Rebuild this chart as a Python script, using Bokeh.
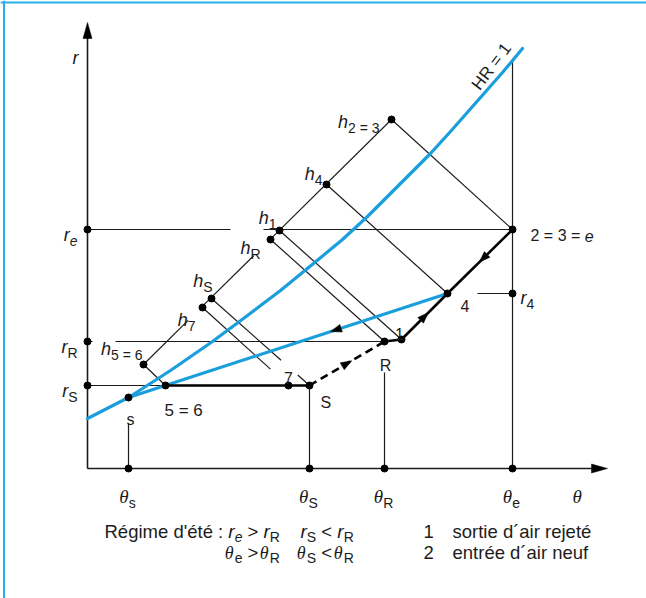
import math
import numpy as np
from bokeh.plotting import figure
from bokeh.models import Range1d, ColumnDataSource, Span
from bokeh.embed import file_html
from bokeh.resources import INLINE

# ---- state points of the summer cycle: dry-bulb temperature θ, humidity ratio r ----
pt_name = ["s", "5=6", "7", "S", "R", "1", "4", "e"]
pt_theta = [4.1, 7.8, 20.1, 22.2, 29.7, 31.4, 36.0, 42.5]
pt_r = [7.1, 8.3, 8.3, 8.3, 12.7, 12.9, 17.5, 23.9]

# feet of the enthalpy lines on the h scale, and the state each line comes from
h_name = ["5=6", "7", "S", "R", "1", "4", "2=3"]
h_theta = [5.6, 11.5, 12.4, 18.3, 19.2, 23.9, 30.4]
h_r = [10.4, 16.1, 17.0, 22.9, 23.8, 28.4, 34.9]
h_to = ["5=6", "7", "S", "R", "1", "4", "e"]

# saturation curve HR = 1
sat_theta = [0.0, 4.1, 8.3, 12.5, 16.0, 19.3, 22.6, 25.5, 28.0, 31.0, 34.3, 36.3, 39.3, 41.5, 43.5]
sat_r = [5.0, 7.1, 9.8, 12.7, 15.3, 17.8, 20.5, 22.9, 25.2, 28.2, 31.5, 33.7, 37.1, 39.6, 42.0]

# values marked on the axes
theta_tick_sub = ["s", "S", "R", "e"]
theta_tick_val = [4.1, 22.2, 29.7, 42.5]
r_tick_sub = ["S", "R", "e"]
r_tick_val = [8.3, 12.7, 23.9]
r4_val = 17.5

theta_axis_len = 52.0
r_axis_len = 44.6

INK = "#1c1c1c"
BLUE = "#1b9fdc"
FRAME_BLUE = "#2ab0e8"
SANS = "Liberation Sans"
SERIF = "Liberation Serif"
PX = 0.1  # data units per screen pixel, same on both axes

P = {n: (x, y) for n, x, y in zip(pt_name, pt_theta, pt_r)}
H = {n: (x, y) for n, x, y in zip(h_name, h_theta, h_r)}

p = figure(width=646, height=598, x_range=Range1d(-8.7, 55.9), y_range=Range1d(-13.0, 46.8),
           output_backend="svg", toolbar_location=None, min_border=0,
           x_axis_type=None, y_axis_type=None)
p.grid.visible = False
p.outline_line_color = None
p.background_fill_color = "white"
p.border_fill_color = "white"

# blue frame on the left and top edges
p.add_layout(Span(location=-8.7 + 3.5 * PX, dimension="height", line_color=FRAME_BLUE, line_width=2))
p.add_layout(Span(location=46.8 - 2.0 * PX, dimension="width", line_color=FRAME_BLUE, line_width=2))


def lerp(a, b, t):
    return (a[0] + (b[0] - a[0]) * t, a[1] + (b[1] - a[1]) * t)


thin_xs, thin_ys = [], []


def seg(a, b):
    thin_xs.append([a[0], b[0]])
    thin_ys.append([a[1], b[1]])


# verticals from the θ axis
sat_top = float(np.interp(P["e"][0], sat_theta, sat_r))
seg((P["s"][0], 0), (P["s"][0], P["s"][1] - 2.6))
seg((P["S"][0], 0), P["S"])
seg((P["R"][0], 0), (P["R"][0], P["R"][1] - 3.1))
seg((P["e"][0], 0), (P["e"][0], sat_top))

# horizontals from the r axis
r_e, r_R, r_S = r_tick_val[2], r_tick_val[1], r_tick_val[0]
seg((0, r_e), (14.3, r_e))
seg((17.6, r_e), P["e"])
seg((0, r_R), (0.5, r_R))
seg((2.8, r_R), P["R"])
seg((0, r_S), P["5=6"])
seg((P["e"][0] - 3.5, r4_val), (P["e"][0], r4_val))

# h scale, broken where its labels sit
ha, hb = H["5=6"], H["2=3"]
for t0, t1 in [(0.0, 0.18), (0.238, 0.444), (0.512, 1.0)]:
    seg(lerp(ha, hb, t0), lerp(ha, hb, t1))

# enthalpy lines from the h scale down to each state point
gaps = {"7": [(0.0, 0.79)], "S": [(0.0, 0.71), (0.88, 1.0)]}
for hn, to in zip(h_name, h_to):
    for t0, t1 in gaps.get(to, [(0.0, 1.0)]):
        seg(lerp(H[hn], P[to], t0), lerp(H[hn], P[to], t1))

p.multi_line(thin_xs, thin_ys, line_color=INK, line_width=1.2)

# axes
p.line([0, theta_axis_len - 1.0], [0, 0], line_color=INK, line_width=1.6)
p.line([0, 0], [0, r_axis_len - 1.0], line_color=INK, line_width=1.6)

# blue lines: saturation curve and the s-4 mixing line
p.line(sat_theta, sat_r, line_color=BLUE, line_width=3.2, line_join="round", line_cap="round")
p.line([P["s"][0], P["4"][0]], [P["s"][1], P["4"][1]], line_color=BLUE, line_width=3.2)

# air treatment path
path_a = ["5=6", "7", "S"]
path_b = ["R", "1", "4", "e"]
p.line([P[n][0] for n in path_a], [P[n][1] for n in path_a], line_color="black", line_width=2.6)
p.line([P[n][0] for n in path_b], [P[n][1] for n in path_b], line_color="black", line_width=2.6,
       line_join="round")
p.line([P["S"][0], P["R"][0]], [P["S"][1], P["R"][1]], line_color="black", line_width=2.6,
       line_dash="8 5")


def head(tip, ang, length, width):
    ux, uy = math.cos(ang), math.sin(ang)
    bx, by = tip[0] - ux * length * PX, tip[1] - uy * length * PX
    nx, ny = -uy, ux
    hw = width / 2 * PX
    return [tip[0], bx + nx * hw, bx - nx * hw], [tip[1], by + ny * hw, by - ny * hw]


def mid_head(a, b, frac, length=11, width=8):
    c = lerp(a, b, frac)
    ang = math.atan2(b[1] - a[1], b[0] - a[0])
    tip = (c[0] + math.cos(ang) * length / 2 * PX, c[1] + math.sin(ang) * length / 2 * PX)
    return head(tip, ang, length, width)


heads = [
    head((theta_axis_len, 0), 0.0, 16, 9),
    head((0, r_axis_len), math.pi / 2, 16, 9),
    mid_head(P["e"], P["4"], 0.45),
    mid_head(P["1"], P["4"], 0.5),
    mid_head(P["S"], P["R"], 0.5),
    mid_head(P["4"], P["s"], 0.35),
]
p.patches([h[0] for h in heads], [h[1] for h in heads], fill_color="black", line_color="black",
          line_width=0.5)

# dots
dot_x = pt_theta + h_theta + theta_tick_val + [0] * len(r_tick_val) + [P["e"][0]]
dot_y = pt_r + h_r + [0] * len(theta_tick_val) + r_tick_val + [r4_val]
p.scatter(dot_x, dot_y, size=7, marker="circle", fill_color="black", line_color="black")

# ---- texts ----
SANS_W = {" ": .278, "'": .191, "´": .333, ":": .278, "=": .584, "<": .584, ">": .584,
          "R": .722, "S": .667, "H": .722, "r": .333, "e": .556, "é": .556, "g": .556,
          "i": .222, "m": .833, "d": .556, "t": .278, "s": .5, "o": .556, "a": .556,
          "j": .222, "n": .556, "u": .556, "f": .278, "h": .556}
SERIF_W = {"θ": .5}


def text_w(t, size, font):
    table = SERIF_W if font == SERIF else SANS_W
    return size * sum(table.get(c, .556) for c in t)


def run_w(run):
    return text_w(run[0], run[1], run[3])


T = {k: [] for k in ["x", "y", "text", "xo", "yo", "size", "style", "font", "align", "base", "angle"]}


def put(x, y, t, xo, yo, size, style="normal", font=SANS, align="left", base="alphabetic", angle=0.0):
    for k, v in zip(T.keys(), [x, y, t, xo, yo, f"{size}px", style, font, align, base, angle]):
        T[k].append(v)


def put_run(anchor, run, x0, dy):
    t, sz, st, f, sh = run
    lead = len(t) - len(t.lstrip(" "))
    body = t.strip(" ")
    if body:
        put(anchor[0], anchor[1], body, x0 + text_w(" " * lead, sz, f), dy + sh, sz, st, f)


def rich(anchor, parts, dx, dy, align="left"):
    """Lay out runs of text side by side; blanks only advance the pen.
    Returns the pen position at the start of each run."""
    ws = [run_w(r) for r in parts]
    total = sum(ws)
    cur = dx - {"left": 0, "center": total / 2, "right": total}[align]
    starts = []
    for run, w in zip(parts, ws):
        starts.append(cur)
        put_run(anchor, run, cur, dy)
        cur += w
    starts.append(cur)
    return starts


def V(t, size=18):  # italic variable letter
    return (t, size, "italic", SANS, 0)


def TH(size=19):
    return ("θ", size, "italic", SERIF, 0)


def SB(t, italic=False, size=14, shift=6):
    return (t, size, "italic" if italic else "normal", SANS, shift)


def N(t, size=16, italic=False):
    return (t, size, "italic" if italic else "normal", SANS, 0)


# axis titles
rich((0, r_axis_len), [V("r")], -15, 35)
rich((theta_axis_len, 0), [TH()], -35, 28)

# r axis values
for sub, rv in zip(r_tick_sub, r_tick_val):
    rich((0, rv), [V("r"), SB(sub, italic=(sub == "e"))], -10, 5, "right")

# θ axis values
for sub, tv in zip(theta_tick_sub, theta_tick_val):
    rich((tv, 0), [TH(), SB(sub)], -1, 28, "center")

# h scale labels: (right end dx, baseline dy) around each foot
h_lab = {"5=6": (-1, -16, "5 = 6"), "7": (-7, 12, "7"), "S": (1, -18, "S"), "R": (-10, 8, "R"),
         "1": (-3, -13, "1"), "4": (-4, -11, "4"), "2=3": (-12, 2, "2 = 3")}
for hn in h_name:
    dx, dy, sub = h_lab[hn]
    rich(H[hn], [V("h"), SB(sub)], dx, dy, "right")

# state point labels
rich(P["e"], [N("2 = 3 = "), N("e", italic=True)], 18, 6)
rich((P["e"][0], r4_val), [V("r"), SB("4")], 8, 4)
rich(P["4"], [N("4")], 13, 12)
rich(P["1"], [N("1")], -2, -6, "center")
rich(P["R"], [N("R")], 1, 24, "center")
rich(P["7"], [N("7")], 0, -8, "center")
rich(P["S"], [N("S")], 11, 17)
rich(P["5=6"], [N("5 = 6", 17)], -1, 25)
rich(P["s"], [N("s")], 2, 22, "center")

# HR = 1 along the top of the saturation curve
top = (sat_theta[-1], sat_r[-1])
put(top[0] - 3.1, top[1] - 1.8, "HR = 1", 0, 0, 17, align="center", base="middle",
    angle=math.radians(53))

# caption: the second line keeps the columns of the first one
cs = 18.5
sub_c = dict(size=14, shift=5)
line1 = [N("Régime d'été : ", cs), V("r", 19), SB("e", True, **sub_c), N(" > ", cs), V("r", 19),
         SB("R", **sub_c), N("    ", cs), V("r", 19), SB("S", **sub_c), N(" < ", cs), V("r", 19),
         SB("R", **sub_c)]
y1, y2 = 63, 84
st1 = rich((0, 0), line1, 17, y1)
# θ groups end where the matching r groups end; the operators stay in place
for sub, end in zip(["e", "R", "S", "R"], [st1[3], st1[6], st1[9], st1[12]]):
    s_run = SB(sub, **sub_c)
    t_run = TH(18)
    put_run((0, 0), s_run, end - run_w(s_run), y2)
    put_run((0, 0), t_run, end - run_w(s_run) - run_w(t_run) - 1, y2)
put_run((0, 0), N(" > ", cs), st1[3], y2)
put_run((0, 0), N(" < ", cs), st1[9], y2)

rich((0, 0), [N("1", cs)], 336, y1)
rich((0, 0), [N("sortie d´air rejeté", cs)], 365, y1)
rich((0, 0), [N("2", cs)], 336, y2)
rich((0, 0), [N("entrée d´air neuf", cs)], 365, y2)

src = ColumnDataSource(T)
p.text(x="x", y="y", text="text", x_offset="xo", y_offset="yo", text_font_size="size",
       text_font_style="style", text_font="font", text_align="align", text_baseline="base",
       angle="angle", text_color=INK, source=src)

open("out.html", "w").write(file_html(p, INLINE))
